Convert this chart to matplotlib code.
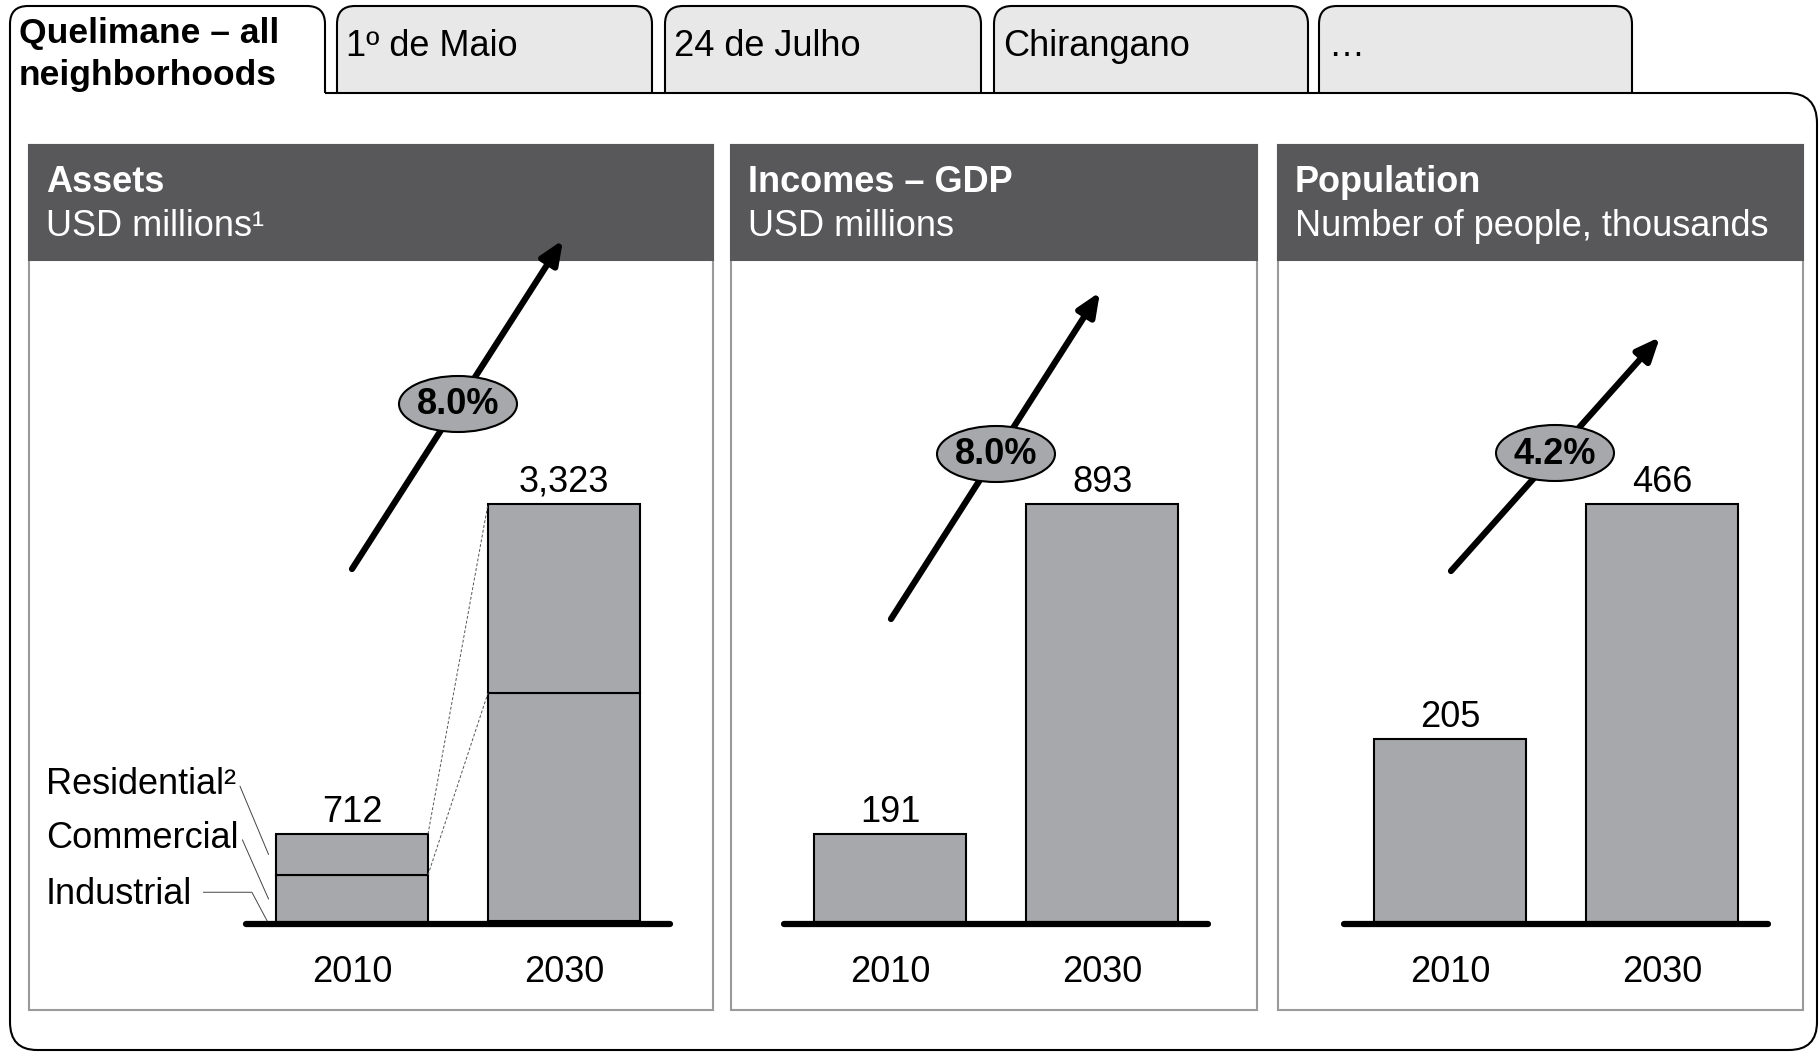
import matplotlib
matplotlib.use("Agg")
import matplotlib.pyplot as plt
from matplotlib.path import Path
from matplotlib.patches import PathPatch, Rectangle, Ellipse

plt.rcParams['font.family'] = ['Liberation Sans', 'DejaVu Sans']

# datos
tabs = ["1º de Maio", "24 de Julho", "Chirangano", "…"]
years = ["2010", "2030"]
industrial = [6, 25]
commercial = [382, 1803]
residential = [324, 1495]
gdp = [191, 893]
population = [205, 466]
titles = ["Assets", "Incomes – GDP", "Population"]
subtitles = ["USD millions¹", "USD millions", "Number of people, thousands"]
growth = ["8.0%", "8.0%", "4.2%"]

W, H = 1820, 1054
GRIS = "#a7a8ab"
FS = 26

fig = plt.figure(figsize=(W / 100, H / 100), dpi=100)
bg = fig.add_axes([0, 0, 1, 1])
bg.set_xlim(0, W)
bg.set_ylim(H, 0)
bg.axis('off')

# pestañas inactivas
tab_x = [(337, 652), (665, 981), (994, 1308), (1319, 1632)]
for (x0, x1), txt in zip(tab_x, tabs):
    v = [(x0, 93), (x0, 24), (x0, 6), (x0 + 18, 6), (x1 - 18, 6), (x1, 6), (x1, 24), (x1, 93)]
    c = [Path.MOVETO, Path.LINETO, Path.CURVE3, Path.CURVE3, Path.LINETO, Path.CURVE3, Path.CURVE3, Path.LINETO]
    bg.add_patch(PathPatch(Path(v, c), facecolor="#e8e8e8", edgecolor="black", lw=1.5))
    bg.text(x0 + 9, 46, txt, fontsize=FS, va='center', ha='left')

# marco principal con la pestaña activa
v = [(325, 93), (1787, 93), (1817, 93), (1817, 123), (1817, 1022), (1817, 1050), (1789, 1050),
     (37, 1050), (10, 1050), (10, 1022), (10, 24), (10, 6), (28, 6), (307, 6), (325, 6), (325, 24),
     (325, 93)]
c = [Path.MOVETO, Path.LINETO, Path.CURVE3, Path.CURVE3, Path.LINETO, Path.CURVE3, Path.CURVE3,
     Path.LINETO, Path.CURVE3, Path.CURVE3, Path.LINETO, Path.CURVE3, Path.CURVE3, Path.LINETO,
     Path.CURVE3, Path.CURVE3, Path.LINETO]
bg.add_patch(PathPatch(Path(v, c), facecolor="white", edgecolor="black", lw=1.5))
bg.text(19, 34, "Quelimane – all", fontsize=FS - 0.5, fontweight='bold', va='center')
bg.text(19, 76, "neighborhoods", fontsize=FS - 0.5, fontweight='bold', va='center')

# paneles
paneles = [(29, 713), (731, 1257), (1278, 1803)]
for (x0, x1), t, s in zip(paneles, titles, subtitles):
    bg.add_patch(Rectangle((x0, 145), x1 - x0, 1010 - 145, facecolor="white", edgecolor="#9a9a9a", lw=1.5))
    bg.add_patch(Rectangle((x0, 145), x1 - x0, 260 - 145, facecolor="#58585a", edgecolor="#58585a", lw=1.5))
    bg.text(x0 + 17, 182, t, fontsize=FS, fontweight='bold', color='white', va='center')
    bg.text(x0 + 17, 226, s, fontsize=FS, color='white', va='center')

# flechas de crecimiento
flechas = [((352, 569), (563, 240), (458, 404)),
           ((891, 619), (1100, 292), (996, 454)),
           ((1451, 571), (1660, 337), (1555, 453))]
for (a, b, e), g in zip(flechas, growth):
    bg.annotate('', xy=b, xytext=a,
                arrowprops=dict(arrowstyle='-|>,head_length=1.4,head_width=0.6', lw=4.5,
                                color='black', shrinkA=0, shrinkB=0))
    bg.add_patch(Ellipse(e, 118, 56, facecolor=GRIS, edgecolor='black', lw=1.5, zorder=5))
    bg.text(e[0], e[1] + 1, g, fontsize=FS, fontweight='bold', ha='center', va='center', zorder=6)

# ejes de barras
centros = [352, 890, 1450]
UNIT = 212
BASE = 924
TOP = 504
AX_TOP = 290
w = 152 / UNIT

totales = [[i + c + r for i, c, r in zip(industrial, commercial, residential)], gdp, population]
axs = []
for cx, vals in zip(centros, totales):
    left = (cx - 0.5 * UNIT) / W
    ax = fig.add_axes([left, (H - BASE) / H, 2 * UNIT / W, (BASE - AX_TOP) / H])
    ax.patch.set_visible(False)
    for sp in ax.spines.values():
        sp.set_visible(False)
    ax.set_xlim(-0.5, 1.5)
    vmax = max(vals)
    ax.set_ylim(0, vmax * (BASE - AX_TOP) / (BASE - TOP))
    ax.set_yticks([])
    ax.set_xticks([0, 1])
    ax.set_xticklabels(years, fontsize=FS)
    ax.tick_params(length=0, pad=22)
    ax.axhline(0, color='black', lw=4.5, zorder=4, solid_capstyle='round', clip_on=False)
    for i, t in enumerate(vals):
        ax.annotate(f"{t:,}", (i, t), xytext=(0, 9), textcoords='offset points',
                    ha='center', va='baseline', fontsize=FS)
    axs.append(ax)

# panel 1: barras apiladas
ax1 = axs[0]
x = [0, 1]
base2 = [a + b for a, b in zip(industrial, commercial)]
ax1.bar(x, industrial, width=w, color=GRIS, edgecolor='black', lw=1.5)
ax1.bar(x, commercial, width=w, bottom=industrial, color=GRIS, edgecolor='black', lw=1.5)
ax1.bar(x, residential, width=w, bottom=base2, color=GRIS, edgecolor='black', lw=1.5)
tot = totales[0]
for y in (base2, tot):
    ax1.plot([w / 2, 1 - w / 2], y, ls='--', lw=0.7, color='#555555', dashes=(3, 2))

# etiquetas de los segmentos
xl = -w / 2 - 0.035
ax1.annotate("Residential²", xy=(xl, base2[0] + residential[0] / 2), xycoords='data',
             xytext=(46, H - 784), textcoords='figure pixels', fontsize=FS, va='center',
             arrowprops=dict(arrowstyle='-', lw=0.7, color='#444444', relpos=(1.0, 0.7),
                             shrinkA=2, shrinkB=0))
ax1.annotate("Commercial", xy=(xl, industrial[0] + commercial[0] / 2), xycoords='data',
             xytext=(46, H - 838), textcoords='figure pixels', fontsize=FS, va='center',
             arrowprops=dict(arrowstyle='-', lw=0.7, color='#444444', relpos=(1.0, 0.7),
                             shrinkA=2, shrinkB=0))
ax1.annotate("Industrial", xy=(xl, industrial[0] / 2), xycoords='data',
             xytext=(46, H - 894), textcoords='figure pixels', fontsize=FS, va='center',
             arrowprops=dict(arrowstyle='-', lw=0.7, color='#444444', relpos=(1.0, 0.55),
                             shrinkA=6, shrinkB=0,
                             connectionstyle='angle,angleA=0,angleB=118,rad=0'))

# panel 2 y 3
axs[1].bar(x, gdp, width=w, color=GRIS, edgecolor='black', lw=1.5)
axs[2].bar(x, population, width=w, color=GRIS, edgecolor='black', lw=1.5)

fig.savefig("out.png", dpi=100)
